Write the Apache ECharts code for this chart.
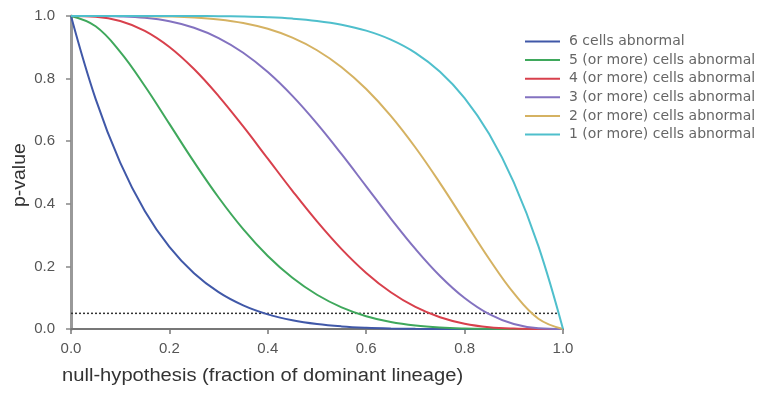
<!DOCTYPE html>
<html>
<head>
<meta charset="utf-8">
<script src="https://cdn.jsdelivr.net/npm/echarts@6/dist/echarts.min.js"></script>
<style>html,body{margin:0;padding:0;background:#fff}#c{width:759px;height:416px}</style>
</head>
<body>
<div id="c"></div>
<script>
// x positions: null-hypothesis (fraction of dominant lineage)
const xValues = [0,0.05,0.1,0.15,0.2,0.25,0.3,0.35,0.4,0.45,0.5,0.55,0.6,0.65,0.7,0.75,0.8,0.85,0.9,0.95,1];
const seriesNames = ['6 cells abnormal','5 (or more) cells abnormal','4 (or more) cells abnormal','3 (or more) cells abnormal','2 (or more) cells abnormal','1 (or more) cells abnormal'];
const six   = [1,0.7351,0.5314,0.3771,0.2621,0.1780,0.1176,0.0754,0.0467,0.0277,0.0156,0.0083,0.0041,0.0018,0.0007,0.0002,0.0001,0,0,0,0];
const five  = [1,0.9672,0.8857,0.7765,0.6554,0.5339,0.4202,0.3191,0.2333,0.1636,0.1094,0.0692,0.0410,0.0223,0.0109,0.0046,0.0016,0.0004,0.0001,0,0];
const four  = [1,0.9978,0.9842,0.9527,0.9011,0.8306,0.7443,0.6471,0.5443,0.4415,0.3438,0.2553,0.1792,0.1174,0.0705,0.0376,0.0170,0.0059,0.0013,0.0001,0];
const three = [1,0.9999,0.9987,0.9941,0.9830,0.9624,0.9295,0.8826,0.8208,0.7447,0.6562,0.5585,0.4557,0.3529,0.2557,0.1694,0.0989,0.0473,0.0158,0.0022,0];
const two   = [1,1,0.9999,0.9996,0.9984,0.9954,0.9891,0.9777,0.9590,0.9308,0.8906,0.8364,0.7667,0.6809,0.5798,0.4661,0.3446,0.2235,0.1143,0.0328,0];
const one   = [1,1,1,1,0.9999,0.9998,0.9993,0.9982,0.9959,0.9917,0.9844,0.9723,0.9533,0.9246,0.8824,0.8220,0.7379,0.6229,0.4686,0.2649,0];
const threshold = 0.05;
const thresholdEnd = 0.99;
const xTicks = ['0.0','0.2','0.4','0.6','0.8','1.0'];
const yTicks = ['0.0','0.2','0.4','0.6','0.8','1.0'];

const colors = ['#4058a8','#3fa85c','#d8404c','#8372c0','#d5b262','#4fbfcc'];
const allData = [six, five, four, three, two, one];
const FONT = 'Liberation Sans, Arial, sans-serif';

const chart = echarts.init(document.getElementById('c'), null, {renderer:'canvas'});
const series = allData.map((d, i) => ({
  name: seriesNames[i],
  type: 'line',
  data: d.map((v, j) => [xValues[j], v]),
  smooth: 0.4,
  showSymbol: false,
  symbol: 'none',
  lineStyle: {width: 2, color: colors[i]},
  itemStyle: {color: colors[i]},
  z: 3 + i
}));
series.push({
  name: 'threshold',
  type: 'line',
  data: [[0, threshold], [thresholdEnd, threshold]],
  showSymbol: false, symbol: 'none',
  lineStyle: {width: 1.5, type: [2, 2], color: '#333'},
  z: 2,
  silent: true
});

chart.setOption({
  animation: false,
  backgroundColor: '#fff',
  textStyle: {fontFamily: FONT},
  grid: {left: 71, right: 196, top: 16, bottom: 87},
  legend: {
    data: seriesNames,
    orient: 'vertical',
    left: 520, top: 29,
    icon: 'rect',
    itemWidth: 35, itemHeight: 2,
    itemGap: 3.6,
    textStyle: {fontSize: 14, color: '#666', fontFamily: 'DejaVu Sans, sans-serif', lineHeight: 15, padding: [0,0,0,4]}
  },
  xAxis: {
    type: 'value', min: 0, max: 1, interval: 0.2,
    axisLine: {show: true, onZero: false, lineStyle: {color: '#777', width: 2}},
    axisTick: {show: true, length: 5, lineStyle: {color: '#777', width: 1.5}},
    axisLabel: {fontSize: 15, color: '#555', margin: 12, formatter: v => xTicks[Math.round(v / 0.2)]},
    splitLine: {show: false}
  },
  yAxis: {
    type: 'value', min: 0, max: 1, interval: 0.2,
    axisLine: {show: true, lineStyle: {color: '#999', width: 3}},
    axisTick: {show: true, length: 5, lineStyle: {color: '#888', width: 1.5}},
    axisLabel: {fontSize: 15, color: '#555', margin: 16, formatter: v => yTicks[Math.round(v / 0.2)]},
    splitLine: {show: false}
  },
  graphic: [
    {type: 'text', x: 62, y: 367, scaleX: 1.12, style: {text: 'null-hypothesis (fraction of dominant lineage)', fontSize: 18, fill: '#333', fontFamily: FONT, textAlign: 'left', textVerticalAlign: 'top'}},
    {type: 'text', x: 11, y: 207, rotation: Math.PI / 2, scaleX: 1.08, style: {text: 'p-value', fontSize: 18, fill: '#333', fontFamily: FONT, textAlign: 'left', textVerticalAlign: 'top'}}
  ],
  series: series
});
</script>
</body>
</html>
